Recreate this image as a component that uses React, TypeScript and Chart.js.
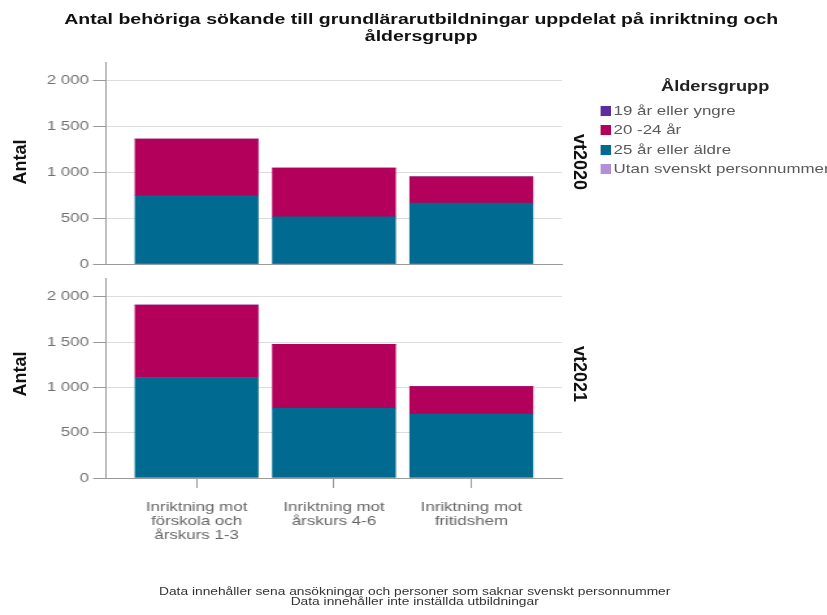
import React, { useEffect, useRef } from 'react';
import { Chart, registerables } from 'chart.js';

Chart.register(...registerables);

// ---- data ----
const categories: string[][] = [
  ['Inriktning mot', 'förskola och', 'årskurs 1-3'],
  ['Inriktning mot', 'årskurs 4-6'],
  ['Inriktning mot', 'fritidshem'],
];
const ageGroups = ['19 år eller yngre', '20 -24 år', '25 år eller äldre', 'Utan svenskt personnummer'];
const ageColors = ['#5B2DA0', '#B3005A', '#006A90', '#B48FD9'];
const terms = ['vt2020', 'vt2021'];

const vt2020Yngre19 = [0, 0, 0];
const vt2020Ar20to24 = [615, 530, 285];
const vt2020Aldre25 = [745, 515, 665];
const vt2020Utan = [0, 0, 0];

const vt2021Yngre19 = [0, 0, 0];
const vt2021Ar20to24 = [800, 705, 305];
const vt2021Aldre25 = [1110, 770, 705];
const vt2021Utan = [0, 0, 0];

const yTickValues = [0, 500, 1000, 1500, 2000];
const yMax = 2200;
const xMin = -0.66;
const xMax = 2.66;

const title = ['Antal behöriga sökande till grundlärarutbildningar uppdelat på inriktning och', 'åldersgrupp'];
const legendTitle = 'Åldersgrupp';
const axisTitle = 'Antal';
const footnotes = [
  'Data innehåller sena ansökningar och personer som saknar svenskt personnummer',
  'Data innehåller inte inställda utbildningar',
];

const FONT = '"Liberation Sans", Arial, sans-serif';
const STRETCH = 1.3;

function fmt(v: number): string {
  return String(v).replace(/\B(?=(\d{3})+(?!\d))/g, ' ');
}

function Panel(props: { series: number[][]; showX: boolean; top: number; height: number }) {
  const { series, showX, top, height } = props;
  const ref = useRef<HTMLCanvasElement | null>(null);
  useEffect(() => {
    const order = [3, 2, 1, 0]; // bottom -> top in stack
    const datasets = order.map((i) => ({
      label: ageGroups[i],
      data: series[i].map((v, j) => ({ x: j, y: v })),
      backgroundColor: ageColors[i],
      borderWidth: 0,
      barThickness: 94.6,
    }));
    const chart = new Chart(ref.current as HTMLCanvasElement, {
      type: 'bar',
      data: { datasets } as any,
      options: {
        animation: false,
        responsive: false,
        devicePixelRatio: 1,
        layout: { padding: { left: 0, right: 7.7, top: showX ? 7 : 12, bottom: showX ? 0 : 9 } },
        plugins: { legend: { display: false }, tooltip: { enabled: false } },
        scales: {
          x: {
            type: 'linear',
            min: xMin,
            max: xMax,
            stacked: true,
            offset: false,
            afterBuildTicks: (s: any) => {
              s.ticks = categories.map((_, i) => ({ value: i }));
            },
            afterFit: (s: any) => {
              s.height = showX ? 70 : 0;
            },
            ticks: {
              display: showX,
              autoSkip: false,
              maxRotation: 0,
              minRotation: 0,
              padding: 12,
              color: '#666666',
              font: { family: FONT, size: 13, lineHeight: '14px' },
              callback: (v: any) => categories[Number(v)] as any,
            },
            grid: {
              display: showX,
              offset: false,
              drawOnChartArea: false,
              drawTicks: true,
              tickLength: 10,
              tickColor: '#9a9a9a',
            },
            border: { display: true, color: '#9a9a9a' },
          },
          y: {
            min: 0,
            max: yMax,
            stacked: true,
            afterBuildTicks: (s: any) => {
              s.ticks = yTickValues.map((v) => ({ value: v }));
            },
            afterFit: (s: any) => {
              s.width = 81.5;
            },
            ticks: {
              color: '#707070',
              padding: 3,
              font: { family: FONT, size: 13 },
              callback: (v: any) => fmt(Number(v)),
            },
            grid: { color: '#dcdcdc', tickColor: '#9a9a9a', tickLength: 10, drawTicks: true },
            border: { color: '#9a9a9a' },
          },
        } as any,
      },
    });
    return () => chart.destroy();
  }, []);
  return (
    <canvas
      ref={ref}
      width={440}
      height={height}
      style={{ position: 'absolute', left: 0, top, width: 440, height }}
    />
  );
}

const rotatedStyle = (x: number, y: number, deg: number): React.CSSProperties => ({
  position: 'absolute',
  left: x,
  top: y,
  transform: `translate(-50%, -50%) rotate(${deg}deg)`,
  fontWeight: 'bold',
  fontSize: 18,
  lineHeight: '20px',
  color: '#111111',
  whiteSpace: 'nowrap',
});

export default function App() {
  const top2020 = [vt2020Yngre19, vt2020Ar20to24, vt2020Aldre25, vt2020Utan];
  const top2021 = [vt2021Yngre19, vt2021Ar20to24, vt2021Aldre25, vt2021Utan];
  const facetCenters = [164, 376];
  return (
    <div
      style={{
        position: 'fixed',
        left: 0,
        top: 0,
        width: 827,
        height: 615,
        background: '#ffffff',
        overflow: 'hidden',
        fontFamily: FONT,
      }}
    >
      <div
        style={{
          position: 'absolute',
          left: 0,
          top: 0,
          width: 636,
          height: 615,
          transform: `scaleX(${STRETCH})`,
          transformOrigin: '0 0',
        }}
      >
        <div
          style={{
            position: 'absolute',
            left: 0,
            top: 9.5,
            width: 648,
            textAlign: 'center',
            fontWeight: 'bold',
            fontSize: 15,
            lineHeight: '17px',
            color: '#111111',
            whiteSpace: 'nowrap',
          }}
        >
          {title.map((t, i) => (
            <div key={i}>{t}</div>
          ))}
        </div>

        <Panel series={top2020} showX={false} top={50} height={225} />
        <Panel series={top2021} showX={true} top={268} height={280} />

        <div
          style={{
            position: 'absolute',
            left: 508.5,
            top: 78,
            width: 80,
            textAlign: 'center',
            fontWeight: 'bold',
            fontSize: 14,
            lineHeight: '16px',
            color: '#222222',
            whiteSpace: 'nowrap',
          }}
        >
          {legendTitle}
        </div>
        {ageGroups.map((g, i) => (
          <div key={g}>
            <div
              style={{
                position: 'absolute',
                left: 462.3,
                top: 106 + i * 19.3,
                width: 7.7,
                height: 10,
                background: ageColors[i],
              }}
            />
            <div
              style={{
                position: 'absolute',
                left: 472,
                top: 103 + i * 19.3,
                fontSize: 13,
                lineHeight: '16px',
                color: '#5a5a5a',
                whiteSpace: 'nowrap',
              }}
            >
              {g}
            </div>
          </div>
        ))}

        <div
          style={{
            position: 'absolute',
            left: 0,
            top: 586,
            width: 638,
            textAlign: 'center',
            fontSize: 10.6,
            lineHeight: '10px',
            color: '#333333',
            whiteSpace: 'nowrap',
          }}
        >
          {footnotes.map((t, i) => (
            <div key={i}>{t}</div>
          ))}
        </div>
      </div>

      {facetCenters.map((cy, i) => (
        <div key={'a' + i} style={rotatedStyle(20, cy - 2, -90)}>
          {axisTitle}
        </div>
      ))}
      {terms.map((t, i) => (
        <div key={t} style={rotatedStyle(580, facetCenters[i] - 2, 90)}>
          {t}
        </div>
      ))}
    </div>
  );
}
